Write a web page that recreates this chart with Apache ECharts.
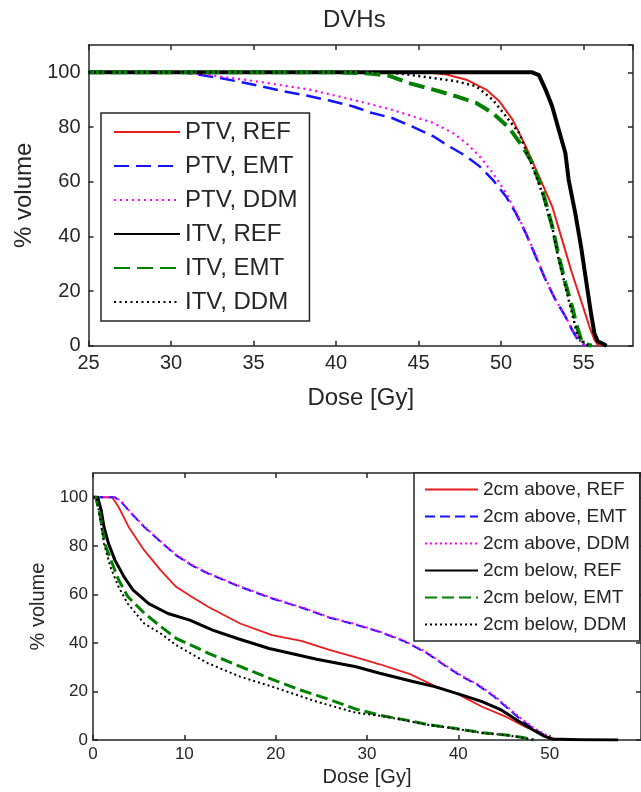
<!DOCTYPE html>
<html><head><meta charset="utf-8">
<script src="https://cdn.jsdelivr.net/npm/echarts@6/dist/echarts.min.js"></script>
<style>html,body{margin:0;padding:0;background:#fff}#c{width:641px;height:792px}</style>
</head><body><div id="c"></div>
<script>
// ---------- Top chart (PTV / ITV) ----------
const topTitle = 'DVHs';
const topXTicks = [25, 30, 35, 40, 45, 50, 55];
const topYTicks = [0, 20, 40, 60, 80, 100];

const ptvRefDose = [25, 45.5, 46.7, 47.9, 49.1, 49.9, 50.7, 51.5, 52.3, 53.1, 53.7, 54.3, 54.9, 55.35, 55.66, 55.86, 56.1];
const ptvRefVol  = [100, 100, 99.2, 97.3, 93.7, 89.4, 82.7, 72.9, 62, 51, 38.8, 26.6, 15.6, 7.1, 2.2, 0.4, 0];

const ptvEmtDose = [25, 30.8, 32.8, 34.2, 35.4, 36.8, 38.2, 39.6, 41.0, 42.2, 43.4, 44.6, 45.9, 46.7, 47.9, 48.7, 49.5, 50.3, 50.9, 51.5, 52.1, 52.7, 53.3, 53.9, 54.3, 54.6, 54.85, 55.1];
const ptvEmtVol  = [100, 100, 98.1, 96.5, 95, 93.1, 91.5, 89.7, 87.6, 85.1, 83.3, 80.2, 76.6, 73.5, 69.3, 65.6, 60.7, 54.6, 48.5, 41.2, 32.7, 24.1, 16.8, 10.7, 5.9, 2.8, 1, 0];

const ptvDdmDose = [25, 30.8, 32.8, 34.2, 35.4, 36.8, 38.4, 41, 43.4, 45.9, 47.1, 47.9, 48.7, 49.5, 50.3, 50.9, 51.5, 52.1, 52.7, 53.3, 53.9, 54.3, 54.6, 54.85, 55.1];
const ptvDdmVol  = [100, 100, 98.6, 97.5, 96.5, 95.2, 93.7, 90, 86.3, 81.5, 77.8, 74.1, 69.3, 63.2, 55.9, 49, 41.5, 33, 24.5, 17, 10.8, 6, 3, 1.2, 0];

const itvRefDose = [25, 51.9, 52.3, 52.7, 53.1, 53.5, 53.9, 54.1, 54.5, 54.85, 55.15, 55.45, 55.66, 55.86, 56.2, 56.4];
const itvRefVol  = [100, 100, 99, 93.7, 87.6, 79, 70.5, 60.7, 48.5, 36.3, 24.1, 12, 4.6, 1.6, 0.6, 0];

const itvEmtDose = [25, 40, 42, 43.2, 44.4, 45.9, 47.3, 48.5, 49.5, 50.5, 51.3, 51.9, 52.5, 53.1, 53.5, 53.9, 54.3, 54.6, 54.85, 55.05, 55.5];
const itvEmtVol  = [100, 100, 99.6, 98.8, 96.1, 93.7, 91.2, 88.8, 85.1, 79.6, 72.9, 66.8, 57, 43.7, 32.7, 22.9, 14.4, 7.1, 2.2, 0.7, 0];

const itvDdmDose = [25, 43, 44, 45.9, 47.3, 48.5, 49.5, 50.3, 51.1, 51.9, 52.5, 53.1, 53.5, 53.9, 54.3, 54.6, 54.9, 55.3];
const itvDdmVol  = [100, 100, 99.5, 97.9, 96.7, 94.9, 90, 83.9, 77.8, 65.6, 55.9, 43.7, 31.5, 21.7, 12, 4.6, 1.6, 0];

const topNames = ['PTV, REF', 'PTV, EMT', 'PTV, DDM', 'ITV, REF', 'ITV, EMT', 'ITV, DDM'];

// ---------- Bottom chart (2cm above / below) ----------
const botXTicks = [0, 10, 20, 30, 40, 50];
const botYTicks = [0, 20, 40, 60, 80, 100];

const aboveRefDose = [0, 2.1, 2.8, 3.9, 5.6, 7.4, 9.1, 10.8, 12.6, 16.1, 19.6, 22.8, 25.8, 28.8, 31.4, 34.8, 37.4, 40, 42.6, 45.2, 47.3, 49, 49.9, 50.7, 52.4];
const aboveRefVol  = [100, 100, 96, 87.8, 78.2, 70, 63.1, 59, 54.9, 48, 43.2, 40.8, 37.2, 34, 31.2, 27, 22.3, 18.8, 13.7, 9.6, 5.5, 2.7, 1, 0.3, 0];

const aboveEmtDose = [0, 2.4, 3.1, 4.2, 5.6, 7.4, 9.1, 10.8, 12.6, 16.1, 19.6, 23.1, 25.8, 28.8, 31.4, 34, 36.6, 38.7, 40.4, 42.1, 43.9, 45.6, 46.9, 48.2, 49.4, 50.3, 51.2];
const aboveEmtVol  = [100, 100, 98.1, 93.3, 87.8, 81.7, 76.1, 72, 68.6, 63.1, 58.3, 54.2, 50.5, 47.5, 44.5, 40.8, 35.7, 30.2, 26.1, 22.7, 17.9, 12.4, 8.2, 4.8, 2.1, 0.4, 0];

const aboveDdmDose = [0, 2.4, 3.1, 4.2, 5.6, 7.4, 9.1, 10.8, 12.6, 16.1, 19.6, 23.1, 25.8, 28.8, 31.4, 34, 36.6, 38.7, 40.4, 42.1, 43.9, 45.6, 46.9, 48.2, 49.4, 50.3, 51.3];
const aboveDdmVol  = [100, 100, 98.3, 93.5, 88, 81.9, 76.3, 72.2, 68.8, 63.3, 58.5, 54.4, 50.7, 47.7, 44.7, 41, 36, 30.5, 26.4, 23, 18.3, 12.9, 8.8, 5.2, 2.5, 0.6, 0];

const belowRefDose = [0, 0.5, 0.9, 1.2, 1.7, 2.4, 3.4, 4.4, 6.1, 8.2, 10.6, 13.1, 15.8, 19.3, 24.5, 28.8, 31.4, 34.8, 37.4, 40, 42.6, 44.7, 46.4, 48.2, 49.4, 50.3, 53.3, 57.5];
const belowRefVol  = [100, 100, 94.7, 87.8, 80.9, 74.1, 67.2, 61.7, 56.2, 52.1, 49.4, 45.3, 41.8, 37.7, 33.3, 30.2, 27.5, 24.3, 22, 19, 15.8, 12.4, 8.2, 4.1, 1.6, 0.4, 0.1, 0];

const belowEmtDose = [0, 0.3, 0.8, 1.1, 1.4, 2.1, 2.8, 3.8, 5.6, 7.4, 9.1, 12.6, 16.1, 19.6, 22.8, 25.8, 28.8, 31.4, 34, 36.6, 39.6, 42.6, 45.2, 46.9, 47.9, 48.3];
const belowEmtVol  = [100, 100, 92, 85.2, 79.7, 72.8, 66, 59.1, 52.3, 46.8, 41.9, 35.8, 30.3, 25, 20.5, 16.8, 12.7, 10.2, 8.4, 6.4, 4.8, 3, 2.1, 1.1, 0.3, 0];

const belowDdmDose = [0, 0.4, 0.8, 1.2, 1.9, 2.8, 3.8, 5.6, 7.4, 9.1, 12.6, 16.1, 19.6, 24.5, 28.8, 31.4, 34, 36.6, 39.6, 42.6, 45.2, 46.9, 47.9, 48.3];
const belowDdmVol  = [100, 100, 90.6, 81, 71.4, 63.1, 56.2, 48, 43.9, 39.1, 31.6, 26.1, 22, 15.8, 11.2, 10, 8.2, 6.3, 4.7, 2.9, 2, 1, 0.3, 0];

const botNames = ['2cm above, REF', '2cm above, EMT', '2cm above, DDM', '2cm below, REF', '2cm below, EMT', '2cm below, DDM'];

// ---------- build ----------
const FONT = 'Liberation Sans, Arial, Helvetica, sans-serif';
const AX = '#262626';
const zip = (xs, ys) => xs.map((x, i) => [x, ys[i]]);

function axis(kind, grid, pos, min, max, interval, opts) {
  const a = {
    type: 'value', gridIndex: grid, position: pos, min: min, max: max, interval: interval,
    axisLine: { show: true, onZero: false, lineStyle: { color: AX, width: 1.5 } },
    axisTick: { show: true, inside: true, length: opts.tick, lineStyle: { color: AX, width: 1.5 } },
    splitLine: { show: false },
    axisLabel: { show: !!opts.label, fontSize: opts.fs, margin: opts.margin, color: AX, fontFamily: FONT, showMaxLabel: false }
  };
  if (opts.name) {
    a.name = opts.name; a.nameLocation = 'middle'; a.nameGap = opts.nameGap;
    a.nameTextStyle = { fontSize: opts.nameFs, color: AX, fontFamily: FONT };
  }
  return a;
}

function line(name, dose, vol, color, width, type, xi, yi) {
  return {
    type: 'line', name: name, xAxisIndex: xi, yAxisIndex: yi,
    data: zip(dose, vol), symbol: 'none', showSymbol: false, animation: false,
    lineStyle: { color: color, width: width, type: type, join: 'round' },
    itemStyle: { color: color }, clip: true
  };
}

const RED = '#e81e1e', BLUE = '#1414ff', MAG = '#ff00ff', BLK = '#000000', GRN = '#007f00';

const option = {
  backgroundColor: '#fff',
  animation: false,
  grid: [
    { left: 88.5, top: 45, width: 544.5, height: 300.7 },
    { left: 93, top: 473, width: 573.6, height: 267 }
  ],
  xAxis: [
    axis('x', 0, 'bottom', 25, 58, 5, { tick: 5, label: true, fs: 20, margin: 8, name: 'Dose [Gy]', nameGap: 41, nameFs: 24 }),
    axis('x', 0, 'top', 25, 58, 5, { tick: 5 }),
    axis('x', 1, 'bottom', 0, 60, 10, { tick: 5, label: true, fs: 17, margin: 6, name: 'Dose [Gy]', nameGap: 27, nameFs: 20 }),
    axis('x', 1, 'top', 0, 60, 10, { tick: 5 })
  ],
  yAxis: [
    axis('y', 0, 'left', 0, 110, 20, { tick: 5, label: true, fs: 20, margin: 8, name: '% volume', nameGap: 50, nameFs: 24 }),
    axis('y', 0, 'right', 0, 110, 20, { tick: 5 }),
    axis('y', 1, 'left', 0, 110, 20, { tick: 5, label: true, fs: 17, margin: 5, name: '% volume', nameGap: 42, nameFs: 20 }),
    axis('y', 1, 'right', 0, 110, 20, { tick: 5 })
  ],
  legend: [
    {
      data: topNames, orient: 'vertical', left: 101, top: 113,
      padding: [7, 12, 7, 12], itemWidth: 66, itemHeight: 14, itemGap: 10,
      itemStyle: { opacity: 0 },
      textStyle: { fontSize: 24, lineHeight: 24, color: AX, fontFamily: FONT },
      borderColor: AX, borderWidth: 1.5, backgroundColor: '#fff', selectedMode: false
    },
    {
      data: botNames, orient: 'vertical', left: 414, top: 473,
      padding: [7, 10, 7, 10], itemWidth: 53, itemHeight: 12, itemGap: 8,
      itemStyle: { opacity: 0 },
      textStyle: { fontSize: 19, lineHeight: 19, color: AX, fontFamily: FONT },
      borderColor: AX, borderWidth: 1.5, backgroundColor: '#fff', selectedMode: false
    }
  ],
  graphic: [
    { type: 'text', left: 323, top: 8, style: { text: topTitle, font: '24px ' + FONT, fill: AX } }
  ],
  series: [
    line(topNames[0], ptvRefDose, ptvRefVol, RED, 2, 'solid', 0, 0),
    line(topNames[1], ptvEmtDose, ptvEmtVol, BLUE, 2.5, [15, 7], 0, 0),
    line(topNames[2], ptvDdmDose, ptvDdmVol, MAG, 2.2, [2, 4], 0, 0),
    line(topNames[3], itvRefDose, itvRefVol, BLK, 4, 'solid', 0, 0),
    line(topNames[4], itvEmtDose, itvEmtVol, GRN, 4, [16, 7], 0, 0),
    line(topNames[5], itvDdmDose, itvDdmVol, BLK, 2.5, [2, 3.5], 0, 0),

    line(botNames[0], aboveRefDose, aboveRefVol, RED, 1.8, 'solid', 2, 2),
    line(botNames[1], aboveEmtDose, aboveEmtVol, BLUE, 2, [10, 5], 2, 2),
    line(botNames[2], aboveDdmDose, aboveDdmVol, MAG, 2, [2, 3], 2, 2),
    line(botNames[3], belowRefDose, belowRefVol, BLK, 3, 'solid', 2, 2),
    line(botNames[4], belowEmtDose, belowEmtVol, GRN, 3, [12, 5], 2, 2),
    line(botNames[5], belowDdmDose, belowDdmVol, BLK, 2, [2, 3], 2, 2)
  ]
};

const chart = echarts.init(document.getElementById('c'), null, { renderer: 'canvas' });
chart.setOption(option);
</script>
</body></html>
